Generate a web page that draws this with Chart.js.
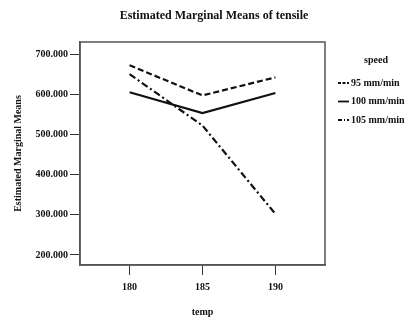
<!doctype html>
<html lang="en">
<head>
<meta charset="utf-8">
<title>Estimated Marginal Means of tensile</title>
<script src="https://cdn.jsdelivr.net/npm/chart.js@4.4.1/dist/chart.umd.min.js"></script>
<style>
  html, body { margin: 0; padding: 0; background: #fff; }
  #wrap { position: relative; width: 414px; height: 322px; }
</style>
</head>
<body>
<div id="wrap"><canvas id="chart"></canvas></div>
<script>
// values
const temps = [180, 185, 190];
const speeds = ['95 mm/min', '100 mm/min', '105 mm/min'];
const tensile95 = [672, 597, 642];
const tensile100 = [605, 553, 603];
const tensile105 = [650, 522, 302];
const yTicks = [200, 300, 400, 500, 600, 700];

const FONT = '"Liberation Serif", "DejaVu Serif", serif';
const INK = '#111';
const DASHES = [[6, 3], [], [7, 3, 2, 3]];
const series = [tensile95, tensile100, tensile105];

const datasets = series.map((vals, i) => ({
  label: speeds[i],
  data: temps.map((t, j) => ({ x: t, y: vals[j] })),
  borderColor: INK,
  borderWidth: 2.2,
  borderDash: DASHES[i],
  pointRadius: 0,
  tension: 0,
  fill: false,
}));

// frame, chart title and legend drawn on the canvas
const extras = {
  id: 'extras',
  afterDraw(chart) {
    const { ctx, chartArea: a } = chart;
    ctx.save();
    ctx.strokeStyle = '#555';
    ctx.lineWidth = 1.5;
    ctx.strokeRect(a.left, a.top, a.right - a.left, a.bottom - a.top);

    ctx.fillStyle = INK;
    ctx.textBaseline = 'middle';
    ctx.textAlign = 'center';
    ctx.font = 'bold 12px ' + FONT;
    ctx.fillText('Estimated Marginal Means of tensile', 214, 16);

    ctx.font = 'bold 10px ' + FONT;
    ctx.fillText('speed', 376, 60);
    ctx.textAlign = 'left';
    speeds.forEach((s, i) => {
      const y = 83 + i * 18.5;
      ctx.beginPath();
      ctx.setLineDash(i === 2 ? [4, 2, 1, 2] : i === 0 ? [3, 1.5] : []);
      ctx.lineWidth = 1.8;
      ctx.strokeStyle = INK;
      ctx.moveTo(338, y);
      ctx.lineTo(349, y);
      ctx.stroke();
      ctx.setLineDash([]);
      ctx.fillText(s, 351, y);
    });
    ctx.restore();
  },
};

new Chart(document.getElementById('chart'), {
  type: 'line',
  data: { datasets },
  plugins: [extras],
  options: {
    responsive: true,
    maintainAspectRatio: false,
    animation: false,
    layout: { padding: { top: 42, right: 89, left: 8, bottom: 0 } },
    plugins: { legend: { display: false }, tooltip: { enabled: false } },
    scales: {
      x: {
        type: 'linear',
        min: 176.6,
        max: 193.4,
        afterBuildTicks: (s) => { s.ticks = temps.map((v) => ({ value: v })); },
        afterFit: (s) => { s.height = 57; },
        grid: { drawOnChartArea: false, tickLength: 10, color: '#333', lineWidth: 1 },
        border: { color: '#555', width: 1.5 },
        ticks: { color: INK, font: { family: FONT, size: 10, weight: 'bold' }, padding: 6 },
        title: { display: true, text: 'temp', color: INK, font: { family: FONT, size: 10, weight: 'bold' }, padding: { top: 4, bottom: 4 } },
      },
      y: {
        min: 175,
        max: 730,
        afterBuildTicks: (s) => { s.ticks = yTicks.map((v) => ({ value: v })); },
        afterFit: (s) => { s.width = 72; },
        grid: { drawOnChartArea: false, tickLength: 10, color: '#333', lineWidth: 1 },
        border: { color: '#555', width: 1.5 },
        ticks: { color: INK, font: { family: FONT, size: 10, weight: 'bold' }, padding: 2, callback: (v) => Number(v).toFixed(3) },
        title: { display: true, text: 'Estimated Marginal Means', color: INK, font: { family: FONT, size: 10, weight: 'bold' }, padding: { top: 4, bottom: 4 } },
      },
    },
  },
});
</script>
</body>
</html>
